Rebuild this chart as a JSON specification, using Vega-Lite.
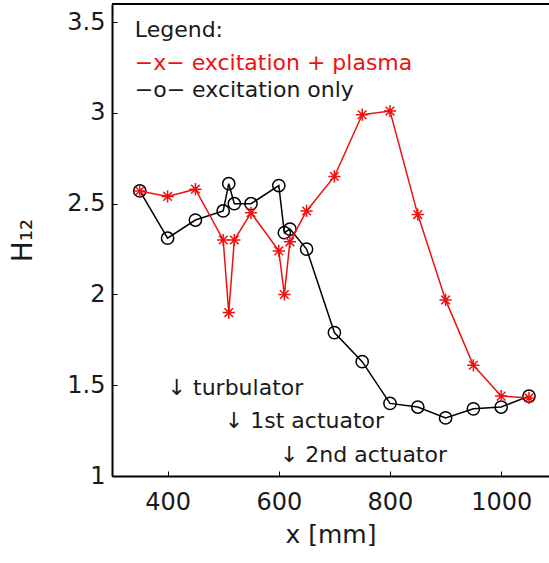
{
  "$schema": "https://vega.github.io/schema/vega-lite/v6.json",
  "width": 437,
  "height": 472,
  "autosize": {"type": "none"},
  "padding": {"left": 112, "top": 4, "right": 0, "bottom": 87},
  "background": "white",
  "config": {
    "view": {"stroke": null},
    "font": "DejaVu Sans",
    "axis": {
      "grid": false,
      "domainColor": "black",
      "domainWidth": 2,
      "tickColor": "black",
      "tickWidth": 1,
      "tickSize": -5,
      "labelFont": "DejaVu Sans",
      "labelFontSize": 24,
      "labelColor": "#1a1a1a",
      "titleFont": "DejaVu Sans",
      "titleFontWeight": "normal",
      "titleColor": "#1a1a1a"
    }
  },
  "datasets": {
    "meas": [
      {"x": 350, "H": 2.57, "series": "excitation + plasma"},
      {"x": 400, "H": 2.54, "series": "excitation + plasma"},
      {"x": 450, "H": 2.58, "series": "excitation + plasma"},
      {"x": 500, "H": 2.30, "series": "excitation + plasma"},
      {"x": 510, "H": 1.90, "series": "excitation + plasma"},
      {"x": 520, "H": 2.30, "series": "excitation + plasma"},
      {"x": 550, "H": 2.45, "series": "excitation + plasma"},
      {"x": 600, "H": 2.24, "series": "excitation + plasma"},
      {"x": 610, "H": 2.00, "series": "excitation + plasma"},
      {"x": 620, "H": 2.29, "series": "excitation + plasma"},
      {"x": 650, "H": 2.46, "series": "excitation + plasma"},
      {"x": 700, "H": 2.65, "series": "excitation + plasma"},
      {"x": 750, "H": 2.99, "series": "excitation + plasma"},
      {"x": 800, "H": 3.01, "series": "excitation + plasma"},
      {"x": 850, "H": 2.44, "series": "excitation + plasma"},
      {"x": 900, "H": 1.97, "series": "excitation + plasma"},
      {"x": 950, "H": 1.61, "series": "excitation + plasma"},
      {"x": 1000, "H": 1.44, "series": "excitation + plasma"},
      {"x": 1050, "H": 1.43, "series": "excitation + plasma"},
      {"x": 350, "H": 2.57, "series": "excitation only"},
      {"x": 400, "H": 2.31, "series": "excitation only"},
      {"x": 450, "H": 2.41, "series": "excitation only"},
      {"x": 500, "H": 2.46, "series": "excitation only"},
      {"x": 510, "H": 2.61, "series": "excitation only"},
      {"x": 520, "H": 2.50, "series": "excitation only"},
      {"x": 550, "H": 2.50, "series": "excitation only"},
      {"x": 600, "H": 2.60, "series": "excitation only"},
      {"x": 610, "H": 2.34, "series": "excitation only"},
      {"x": 620, "H": 2.36, "series": "excitation only"},
      {"x": 650, "H": 2.25, "series": "excitation only"},
      {"x": 700, "H": 1.79, "series": "excitation only"},
      {"x": 750, "H": 1.63, "series": "excitation only"},
      {"x": 800, "H": 1.40, "series": "excitation only"},
      {"x": 850, "H": 1.38, "series": "excitation only"},
      {"x": 900, "H": 1.32, "series": "excitation only"},
      {"x": 950, "H": 1.37, "series": "excitation only"},
      {"x": 1000, "H": 1.38, "series": "excitation only"},
      {"x": 1050, "H": 1.44, "series": "excitation only"}
    ],
    "notes": [
      {"x": 341, "H": 3.419, "label": "Legend:", "kind": "plain"},
      {"x": 341, "H": 3.237, "label": "−x− excitation + plasma", "kind": "plasma"},
      {"x": 341, "H": 3.088, "label": "−o− excitation only", "kind": "plain"},
      {"x": 400, "H": 1.446, "label": "↓ turbulator", "kind": "plain"},
      {"x": 503, "H": 1.264, "label": "↓ 1st actuator", "kind": "plain"},
      {"x": 602, "H": 1.077, "label": "↓ 2nd actuator", "kind": "plain"}
    ],
    "frame": [{"H": 3.6}]
  },
  "layer": [
    {
      "data": {"name": "frame"},
      "mark": {"type": "rule", "color": "black", "strokeWidth": 2},
      "encoding": {"y": {"field": "H", "type": "quantitative"}}
    },
    {
      "data": {"name": "meas"},
      "transform": [{"filter": "datum.series === 'excitation only'"}],
      "mark": {"type": "line", "color": "black", "strokeWidth": 1.5},
      "encoding": {
        "x": {"field": "x", "type": "quantitative", "scale": {"domain": [300, 1086], "nice": false, "zero": false},
          "axis": {"orient": "bottom", "values": [400, 600, 800, 1000], "format": "d", "title": "x [mm]", "titleFontSize": 25, "labelPadding": 19, "titlePadding": 8}},
        "y": {"field": "H", "type": "quantitative", "scale": {"domain": [1, 3.6], "nice": false, "zero": false},
          "axis": {"values": [1, 1.5, 2, 2.5, 3, 3.5], "format": "~g", "title": "H₁₂", "titleFontSize": 28, "labelPadding": 12, "titlePadding": 29}}
      }
    },
    {
      "data": {"name": "meas"},
      "transform": [{"filter": "datum.series === 'excitation only'"}],
      "mark": {"type": "point", "shape": "circle", "filled": false, "stroke": "black", "strokeWidth": 1.5, "size": 150, "opacity": 1},
      "encoding": {
        "x": {"field": "x", "type": "quantitative"},
        "y": {"field": "H", "type": "quantitative"}
      }
    },
    {
      "data": {"name": "meas"},
      "transform": [{"filter": "datum.series === 'excitation + plasma'"}],
      "mark": {"type": "line", "color": "#ee1111", "strokeWidth": 1.5},
      "encoding": {
        "x": {"field": "x", "type": "quantitative"},
        "y": {"field": "H", "type": "quantitative"}
      }
    },
    {
      "data": {"name": "meas"},
      "transform": [{"filter": "datum.series === 'excitation + plasma'"}],
      "mark": {"type": "point", "shape": "M-1,0L1,0M0,-1L0,1M-0.7,-0.7L0.7,0.7M-0.7,0.7L0.7,-0.7", "filled": false, "stroke": "#ee1111", "strokeWidth": 1.5, "size": 150, "opacity": 1},
      "encoding": {
        "x": {"field": "x", "type": "quantitative"},
        "y": {"field": "H", "type": "quantitative"}
      }
    },
    {
      "data": {"name": "notes"},
      "mark": {"type": "text", "align": "left", "baseline": "alphabetic", "fontSize": 22, "font": "DejaVu Sans"},
      "encoding": {
        "x": {"field": "x", "type": "quantitative"},
        "y": {"field": "H", "type": "quantitative"},
        "text": {"field": "label"},
        "color": {"field": "kind", "type": "nominal", "scale": {"domain": ["plain", "plasma"], "range": ["#1a1a1a", "#ee1111"]}, "legend": null}
      }
    }
  ]
}
